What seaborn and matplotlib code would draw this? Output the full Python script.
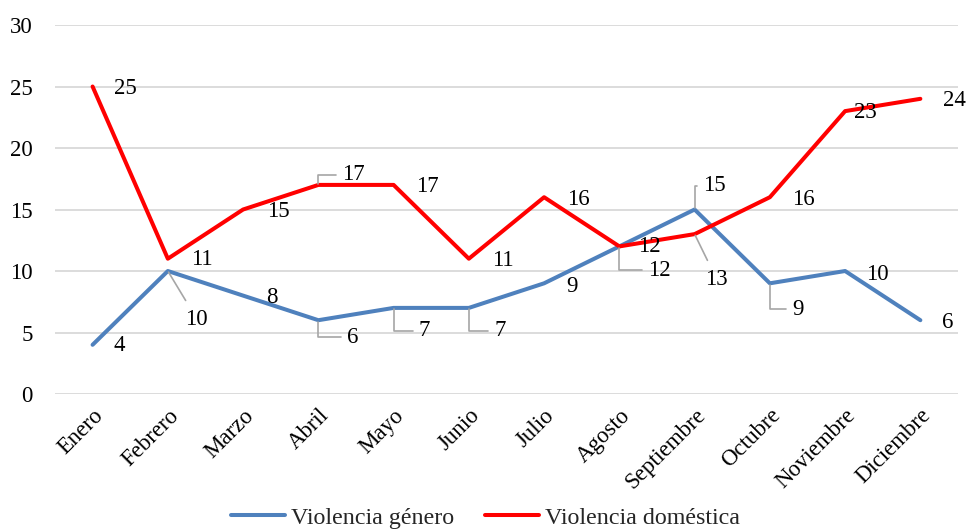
#!/usr/bin/env python3
"""
Casos mensuales de violencia de género y violencia doméstica.
"""

import matplotlib.pyplot as plt
import numpy as np
import pandas as pd
import seaborn as sns

meses = ["Enero", "Febrero", "Marzo", "Abril", "Mayo", "Junio", "Julio",
         "Agosto", "Septiembre", "Octubre", "Noviembre", "Diciembre"]
genero = [4, 10, 8, 6, 7, 7, 9, 12, 15, 9, 10, 6]
domestica = [25, 11, 15, 17, 17, 11, 16, 12, 13, 16, 23, 24]
series = ["Violencia género", "Violencia doméstica"]

# label offsets (pixels) and leader-line type
off_genero = [(27, -1), (29, -48), (29, -2), (34, -17), (31, -23), (31, -23),
              (28, -3), (40, -24), (20, 24), (28, -26), (32, -3), (27, -2)]
lead_genero = [None, "line", None, "angle", "angle", "angle",
               None, "angle", "angle_up", "angle", None, None]
off_dom = [(33, -2), (34, -1), (35, -2), (35, 10), (34, -2), (34, -2),
           (34, -2), (30, 0), (22, -45), (34, -2), (20, -1), (34, -2)]
lead_dom = [None, None, None, "angle_up", None, None,
            None, None, "line", None, None, None]

colores = {"Violencia género": "#4f81bd", "Violencia doméstica": "#ff0000"}
FS = 16.5


def main():
    sns.set_style("white")
    plt.rcParams["font.family"] = ["Liberation Serif", "DejaVu Serif"]

    x = np.arange(len(meses))
    df = pd.DataFrame({
        "x": np.concatenate([x, x]),
        "valor": genero + domestica,
        "serie": [series[0]] * len(x) + [series[1]] * len(x),
    })

    fig = plt.figure(figsize=(9.71, 5.29), dpi=100)
    ax = fig.add_axes([0.0566, 0.2552, 0.930, 0.6975])

    sns.lineplot(data=df, x="x", y="valor", hue="serie", palette=colores,
                 linewidth=2.9, sort=False, ax=ax, legend=True)

    ax.set_xlim(-0.5, len(meses) - 0.5)
    ax.set_ylim(0, 30)
    ax.set_yticks(range(0, 31, 5))
    ax.set_xticks(x)
    ax.set_xticklabels(meses, rotation=45, ha="right", rotation_mode="anchor")
    ax.tick_params(axis="both", length=0, labelsize=FS, colors="black")
    ax.tick_params(axis="x", pad=8)
    ax.tick_params(axis="y", pad=16)
    ax.grid(axis="y", color="#d9d9d9", linewidth=1.3)
    ax.set_axisbelow(True)
    for s in ax.spines.values():
        s.set_visible(False)
    ax.set_xlabel("")
    ax.set_ylabel("")

    # data labels
    for vals, offs, leads in [(genero, off_genero, lead_genero),
                              (domestica, off_dom, lead_dom)]:
        for i, (v, (dx, dy), ld) in enumerate(zip(vals, offs, leads)):
            arrow = None
            if ld == "line":
                arrow = dict(arrowstyle="-", color="#a6a6a6", lw=1.2,
                             shrinkA=4, shrinkB=1)
            elif ld == "angle":
                arrow = dict(arrowstyle="-", color="#a6a6a6", lw=1.2,
                             shrinkA=2, shrinkB=1,
                             connectionstyle="angle,angleA=0,angleB=90,rad=0")
            elif ld == "angle_up":
                arrow = dict(arrowstyle="-", color="#a6a6a6", lw=1.2,
                             shrinkA=2, shrinkB=1,
                             connectionstyle="angle,angleA=0,angleB=-90,rad=0")
            ax.annotate(str(v), xy=(i, v), xytext=(dx, dy),
                        textcoords="offset pixels", ha="center", va="center",
                        fontsize=FS, color="black", arrowprops=arrow)

    handles, labels = ax.get_legend_handles_labels()
    ax.get_legend().remove()
    fig.legend(handles, labels, loc="lower center", bbox_to_anchor=(0.5, -0.04),
               ncol=2, frameon=False, fontsize=17.3, handlelength=2.25,
               columnspacing=1.3, handletextpad=0.25)

    plt.savefig("out.png", dpi=100)


if __name__ == "__main__":
    main()
